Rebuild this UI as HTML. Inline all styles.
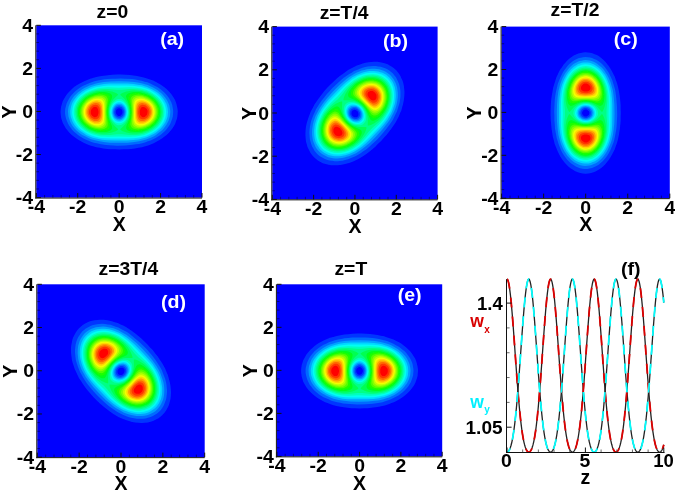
<!DOCTYPE html>
<html><head><meta charset="utf-8"><title>Figure</title><style>
html,body{margin:0;padding:0;background:#fff;}
body{width:675px;height:494px;overflow:hidden;}
svg{display:block;}
text{font-family:"Liberation Sans",Arial,Helvetica,sans-serif;font-weight:bold;fill:#000;}
.tx{font-size:18.5px;text-anchor:middle;}
.ty{font-size:18.5px;text-anchor:end;}
.lb{font-size:19.5px;text-anchor:middle;}
.tt{font-size:18.5px;text-anchor:middle;}
.pl{font-size:18.5px;text-anchor:middle;fill:#fff;}
.wl{font-size:17.5px;}
.sub{font-size:10px;}
</style></head>
<body><svg width="675" height="494" viewBox="0 0 675 494">
<rect width="675" height="494" fill="#fff"/>
<defs><filter id="bl" x="-10%" y="-10%" width="120%" height="120%"><feGaussianBlur stdDeviation="0.45"/></filter><g id="blob"><path fill="#0036ff" d="M31 173 10 174 -12 174 -34 173 -54 171 -73 169 -92 166 -110 163 -127 158 -143 154 -160 147 -176 140 -190 133 -203 126 -216 117 -228 107 -239 97 -249 86 -258 75 -265 63 -272 51 -276 39 -280 26 -282 13 -283 0 -282 -13 -280 -26 -276 -39 -272 -51 -265 -63 -258 -75 -249 -86 -239 -97 -229 -106 -219 -114 -208 -122 -195 -130 -182 -137 -169 -144 -155 -149 -140 -155 -126 -159 -110 -163 -93 -166 -76 -169 -57 -171 -39 -173 -20 -173 0 -174 20 -173 39 -173 57 -171 76 -169 93 -166 110 -163 126 -159 140 -155 155 -149 169 -144 182 -137 195 -130 208 -122 219 -114 229 -106 239 -97 248 -87 256 -77 264 -66 270 -55 274 -44 278 -33 281 -22 282 -10 283 2 282 13 280 24 277 36 273 48 268 59 261 70 254 80 246 90 236 100 226 109 215 117 203 126 191 133 178 139 164 146 149 151 134 156 119 161 102 164 86 167 69 170 51 172ZM5 17 10 14 14 9 16 3 16 -1 16 -4 13 -10 11 -13 9 -15 6 -17 3 -18 0 -18 -3 -18 -6 -17 -9 -15 -11 -13 -13 -10 -15 -7 -16 -3 -16 1 -16 4 -15 7 -13 11 -11 13 -8 15 -5 17 -2 18 1 18Z"/>
<path fill="#006bff" d="M28 155 7 156 -14 155 -35 155 -54 153 -72 152 -88 149 -103 146 -119 143 -133 138 -148 133 -162 127 -174 122 -186 115 -198 107 -209 99 -219 90 -228 80 -237 70 -243 60 -249 49 -254 38 -257 27 -260 16 -261 4 -261 -8 -259 -19 -256 -31 -252 -42 -247 -53 -241 -64 -233 -74 -225 -84 -216 -93 -207 -100 -197 -108 -186 -115 -174 -122 -162 -127 -150 -132 -136 -138 -122 -142 -108 -145 -93 -148 -79 -151 -63 -153 -46 -154 -10 -156 29 -155 64 -152 80 -150 96 -148 111 -145 124 -141 139 -136 152 -132 164 -126 176 -120 188 -114 199 -106 209 -99 219 -90 228 -81 235 -72 242 -62 248 -52 252 -42 256 -31 259 -21 260 -10 261 1 260 12 258 23 256 33 252 44 247 54 241 64 234 73 227 82 218 91 208 99 198 107 188 114 176 120 164 126 150 132 136 138 123 141 108 145 94 148 79 151 63 153ZM6 25 10 23 14 21 17 17 20 13 22 9 23 4 23 -1 22 -6 21 -11 19 -15 16 -19 13 -21 9 -24 5 -25 1 -26 -4 -25 -9 -24 -13 -21 -17 -18 -19 -14 -22 -9 -23 -4 -23 1 -22 6 -21 11 -19 15 -16 19 -12 22 -8 24 -3 26 2 26Z"/>
<path fill="#00a1ff" d="M41 142 -1 143 -42 142 -74 139 -88 137 -102 135 -116 131 -130 127 -143 123 -155 118 -166 113 -178 106 -188 99 -198 92 -208 83 -217 74 -224 65 -231 55 -236 45 -240 35 -244 25 -246 14 -247 3 -246 -8 -245 -19 -242 -29 -238 -40 -234 -50 -228 -60 -221 -69 -214 -77 -207 -84 -199 -91 -190 -98 -180 -105 -170 -110 -160 -115 -149 -120 -138 -125 -126 -129 -101 -135 -74 -139 -44 -142 -3 -143 40 -142 73 -139 88 -137 102 -135 116 -131 130 -127 143 -123 155 -118 166 -113 178 -106 188 -99 198 -92 207 -84 215 -76 222 -67 229 -58 234 -49 239 -39 242 -29 245 -19 246 -9 247 1 246 11 244 21 242 31 238 41 233 51 228 60 221 69 214 77 205 86 196 93 186 101 176 107 164 114 153 119 141 124 129 128 116 131 102 135 88 137 73 139ZM6 32 11 30 16 27 20 23 24 18 27 12 28 6 29 0 28 -6 27 -12 24 -18 21 -22 17 -26 12 -30 7 -32 2 -33 -4 -32 -10 -31 -15 -28 -19 -24 -23 -19 -26 -13 -28 -7 -29 -1 -28 6 -27 12 -24 18 -20 23 -16 27 -11 30 -6 32 0 33Z"/>
<path fill="#00d7ff" d="M39 132 -8 132 -46 132 -74 130 -98 126 -111 123 -124 120 -136 116 -147 111 -158 106 -168 101 -178 95 -187 88 -196 81 -204 73 -212 64 -219 55 -225 45 -229 36 -232 26 -234 16 -236 6 -236 -4 -235 -14 -233 -24 -229 -34 -226 -43 -220 -53 -214 -62 -208 -69 -201 -76 -194 -83 -186 -89 -169 -100 -159 -106 -149 -111 -128 -119 -106 -124 -83 -129 -57 -131 -19 -132 38 -132 68 -130 94 -127 107 -124 121 -121 133 -117 145 -112 156 -107 167 -102 177 -96 187 -88 196 -81 204 -73 211 -65 217 -57 223 -48 227 -39 231 -30 234 -20 235 -10 236 -1 235 9 234 19 231 29 228 38 223 47 218 56 211 65 204 73 197 80 188 88 179 94 169 100 158 106 147 111 135 116 123 120 110 124 97 126 70 130ZM2 39 9 38 15 35 20 31 25 26 29 20 31 13 33 6 33 -2 32 -10 30 -17 27 -23 22 -29 17 -34 11 -37 5 -39 -1 -39 -8 -38 -14 -35 -20 -31 -25 -26 -29 -20 -31 -13 -33 -6 -33 2 -32 10 -30 17 -26 24 -22 29 -17 34 -11 37 -4 39Z"/>
<path fill="#00fff2" d="M35 123 -54 123 -76 121 -97 118 -109 116 -121 113 -142 105 -152 101 -162 96 -171 90 -180 84 -189 77 -197 69 -204 61 -210 53 -215 44 -220 35 -223 26 -225 16 -226 7 -227 -3 -226 -13 -224 -22 -221 -31 -217 -40 -212 -49 -206 -58 -195 -71 -188 -77 -181 -83 -165 -94 -148 -103 -130 -110 -110 -116 -89 -120 -66 -122 -39 -123 46 -123 70 -122 91 -119 104 -117 116 -114 128 -111 139 -107 150 -102 161 -96 171 -90 180 -84 188 -77 196 -70 203 -62 209 -54 215 -45 219 -36 223 -27 225 -18 226 -9 227 1 226 10 225 19 222 28 219 37 214 46 208 55 202 63 195 71 187 78 179 85 170 91 160 97 150 102 139 107 128 111 116 114 104 117 91 119 65 122ZM6 45 13 43 19 39 25 34 30 27 34 20 36 12 38 4 37 -5 36 -13 33 -22 29 -29 24 -35 18 -40 11 -44 4 -45 -3 -45 -10 -44 -17 -41 -24 -35 -29 -29 -33 -21 -36 -13 -38 -4 -37 5 -36 14 -33 22 -28 30 -23 36 -16 41 -9 44 -2 46Z"/>
<path fill="#00ffbc" d="M72 114 49 115 -2 113 -55 115 -69 114 -82 113 -102 110 -122 105 -141 98 -158 90 -168 84 -177 77 -185 71 -193 63 -199 55 -205 47 -209 39 -213 30 -216 21 -218 12 -219 3 -219 -7 -217 -16 -215 -25 -212 -34 -207 -43 -199 -56 -188 -68 -175 -79 -160 -89 -144 -97 -126 -104 -107 -109 -88 -113 -72 -114 -55 -115 -3 -113 52 -115 66 -114 79 -114 101 -110 121 -106 140 -99 158 -90 167 -85 175 -79 183 -73 190 -66 196 -59 202 -51 207 -43 211 -35 214 -27 217 -18 218 -9 219 -1 218 8 217 16 215 24 212 33 208 41 204 49 198 57 192 64 185 71 177 77 169 83 160 89 151 94 141 98 130 103 119 106 107 109 96 111 84 113ZM6 52 14 49 21 45 28 39 33 32 37 23 40 14 42 5 42 -5 40 -15 37 -24 32 -33 27 -40 20 -46 13 -50 5 -52 -3 -52 -11 -51 -19 -47 -26 -41 -32 -33 -37 -24 -40 -15 -42 -5 -42 5 -40 15 -36 25 -31 34 -25 42 -18 47 -10 51 -2 53Z"/>
<path fill="#00ff86" d="M69 107 49 107 14 103 1 103 -13 103 -41 106 -55 107 -70 107 -85 106 -103 104 -121 99 -137 94 -153 86 -162 81 -171 74 -179 68 -186 61 -193 53 -198 45 -203 37 -206 29 -209 21 -211 12 -212 3 -211 -6 -210 -15 -208 -23 -205 -32 -201 -40 -193 -52 -183 -64 -171 -74 -158 -83 -143 -91 -127 -97 -110 -102 -92 -105 -75 -107 -58 -107 -42 -106 -12 -103 1 -103 14 -103 54 -107 68 -107 82 -106 101 -104 119 -100 137 -94 153 -86 162 -81 170 -75 178 -68 185 -62 191 -55 196 -48 201 -41 205 -33 208 -25 210 -17 211 -9 212 0 211 9 210 17 208 25 205 33 201 41 196 48 191 55 185 62 178 68 170 75 162 81 153 86 144 90 134 95 124 98 113 101 102 104 91 105ZM4 61 12 59 20 54 27 48 34 39 39 30 43 19 45 8 46 -3 44 -14 41 -25 37 -34 31 -44 24 -51 16 -57 12 -59 7 -60 -1 -61 -6 -61 -10 -60 -18 -56 -26 -49 -33 -41 -39 -31 -43 -20 -45 -9 -46 3 -44 15 -41 26 -36 36 -29 46 -21 53 -13 58 -5 61 -1 61Z"/>
<path fill="#00ff51" d="M-74 100 -87 99 -99 98 -112 96 -124 92 -136 88 -147 83 -157 77 -167 70 -175 63 -183 55 -189 47 -195 38 -199 29 -203 19 -204 10 -205 0 -204 -10 -203 -19 -199 -29 -195 -38 -189 -47 -183 -55 -175 -63 -166 -71 -156 -78 -146 -83 -135 -88 -123 -92 -111 -96 -98 -98 -86 -100 -73 -100 -63 -100 -53 -99 -35 -95 -25 -92 -17 -89 -9 -85 -6 -82 -5 -80 -7 -78 -19 -67 -28 -58 -34 -50 -39 -41 -44 -31 -47 -21 -49 -11 -49 0 -49 11 -47 22 -43 32 -39 42 -33 51 -27 59 -19 67 -7 78 -5 80 -5 81 -6 82 -8 84 -15 88 -25 92 -34 95 -44 97 -54 99 -64 100ZM74 100 64 100 54 99 44 97 34 95 25 92 15 88 8 84 6 82 5 81 5 80 7 78 19 67 27 59 33 51 39 42 43 32 47 22 49 11 49 0 49 -11 47 -21 44 -31 39 -41 34 -50 28 -58 19 -67 7 -78 5 -80 6 -82 9 -85 17 -89 25 -92 35 -95 53 -99 63 -100 73 -100 86 -100 98 -98 111 -96 123 -92 135 -88 146 -83 156 -78 166 -71 175 -63 183 -55 189 -47 195 -38 199 -29 203 -19 204 -10 205 0 204 10 203 19 199 29 195 38 189 47 183 55 175 63 167 70 157 77 147 83 136 88 124 92 112 96 99 98 87 99Z"/>
<path fill="#00ff1b" d="M-72 93 -82 93 -93 93 -104 91 -115 89 -125 86 -135 82 -145 78 -154 72 -162 67 -170 60 -177 53 -183 46 -188 38 -192 30 -196 22 -198 13 -199 5 -199 -4 -198 -13 -196 -21 -193 -29 -189 -37 -184 -45 -178 -52 -171 -59 -163 -66 -155 -72 -146 -77 -136 -82 -126 -86 -116 -89 -105 -91 -92 -93 -80 -93 -69 -93 -58 -91 -48 -88 -41 -85 -36 -80 -35 -78 -34 -75 -34 -70 -35 -65 -45 -41 -50 -27 -52 -13 -53 0 -52 13 -50 27 -45 41 -35 65 -34 70 -34 75 -35 79 -38 82 -41 85 -46 87 -51 89 -58 91ZM90 93 79 93 69 93 59 91 51 89 43 86 38 82 35 78 33 74 34 70 35 65 45 41 50 27 52 13 53 0 52 -13 50 -27 45 -41 35 -65 34 -70 34 -75 35 -78 37 -81 40 -84 43 -86 54 -90 66 -92 77 -93 88 -93 99 -92 111 -90 123 -87 134 -83 144 -78 154 -72 163 -66 171 -59 178 -52 184 -44 189 -36 194 -27 197 -18 198 -9 199 0 198 9 197 18 194 27 189 36 184 44 178 52 171 59 163 66 155 72 145 78 135 82 124 86 113 89 102 92Z"/>
<path fill="#1bff00" d="M-74 86 -83 87 -92 87 -102 86 -112 84 -122 81 -131 78 -140 74 -149 69 -157 64 -165 58 -171 52 -177 45 -182 38 -186 30 -189 23 -191 15 -193 7 -193 -1 -193 -9 -191 -17 -188 -25 -185 -32 -181 -39 -176 -46 -170 -53 -163 -59 -156 -65 -148 -70 -140 -74 -131 -78 -122 -81 -112 -84 -100 -86 -89 -87 -78 -87 -68 -85 -60 -83 -53 -79 -49 -75 -47 -72 -46 -69 -46 -64 -46 -59 -55 -23 -56 -11 -57 0 -56 10 -55 20 -53 32 -46 57 -46 63 -46 68 -47 72 -49 75 -52 78 -55 80 -63 84ZM101 86 91 87 81 87 71 86 63 84 56 81 51 77 48 73 46 68 46 63 46 57 53 32 55 20 56 10 57 0 56 -10 55 -20 53 -32 46 -57 46 -63 46 -68 47 -71 48 -74 51 -77 54 -79 62 -83 72 -86 81 -87 91 -87 101 -86 111 -84 121 -82 131 -78 141 -74 150 -69 158 -63 166 -57 173 -50 178 -43 184 -35 188 -27 190 -19 192 -11 193 -3 193 6 192 14 189 22 186 30 182 38 177 45 171 52 165 58 157 64 149 69 140 74 131 78 121 82 111 84Z"/>
<path fill="#51ff00" d="M-81 80 -89 81 -98 81 -107 79 -116 78 -125 75 -134 71 -142 68 -150 63 -157 58 -164 52 -169 46 -175 39 -179 32 -182 25 -185 18 -187 10 -187 3 -187 -5 -186 -13 -184 -20 -182 -27 -178 -34 -173 -41 -168 -47 -162 -53 -156 -58 -149 -63 -141 -68 -133 -72 -124 -75 -116 -78 -107 -79 -97 -81 -87 -81 -78 -80 -70 -77 -64 -74 -59 -70 -56 -65 -55 -60 -55 -50 -59 -19 -61 0 -59 19 -55 50 -54 56 -55 61 -56 65 -58 68 -60 71 -63 74 -67 76 -71 78ZM103 80 93 81 84 80 76 79 69 77 64 74 59 70 56 65 55 60 55 50 59 19 61 0 59 -19 55 -50 54 -56 55 -61 56 -65 58 -68 60 -71 63 -74 67 -76 71 -78 82 -80 90 -81 99 -80 108 -79 117 -77 126 -75 135 -71 143 -67 151 -62 158 -57 165 -51 170 -45 175 -38 180 -31 183 -23 185 -16 187 -8 187 -1 187 7 186 15 184 22 181 29 177 36 172 43 167 49 160 55 153 61 146 65 138 70 130 73 121 76 112 79Z"/>
<path fill="#86ff00" d="M-87 74 -94 75 -102 74 -110 73 -118 72 -126 69 -134 66 -142 62 -149 57 -156 52 -161 47 -167 41 -171 35 -175 29 -178 22 -180 15 -181 8 -182 1 -182 -6 -180 -13 -178 -20 -176 -27 -172 -33 -168 -39 -163 -45 -157 -51 -151 -56 -144 -61 -137 -64 -130 -68 -122 -70 -114 -73 -106 -74 -97 -75 -88 -74 -80 -73 -74 -70 -69 -67 -66 -63 -63 -58 -62 -52 -62 -42 -64 -15 -64 -1 -64 14 -61 43 -62 49 -62 54 -63 58 -65 62 -67 65 -70 68 -77 72 -82 73ZM106 74 97 75 88 74 80 73 74 70 69 67 66 63 63 58 62 52 62 42 64 15 64 1 64 -14 61 -43 62 -50 62 -55 64 -59 65 -62 67 -65 71 -68 74 -70 78 -72 88 -74 95 -75 103 -74 111 -73 120 -71 128 -68 136 -65 143 -61 150 -57 156 -52 162 -46 167 -40 172 -34 175 -28 178 -21 180 -14 181 -7 182 0 181 7 180 14 178 20 176 27 172 33 168 39 163 45 157 51 151 56 144 61 137 64 130 68 122 70 114 73Z"/>
<path fill="#bcff00" d="M-92 68 -98 69 -105 68 -112 67 -120 66 -128 63 -135 60 -142 56 -148 52 -154 47 -159 42 -163 37 -167 31 -171 25 -173 19 -175 13 -176 6 -176 -1 -176 -7 -175 -13 -173 -19 -171 -25 -167 -31 -163 -37 -159 -42 -154 -47 -148 -52 -142 -56 -135 -60 -128 -63 -121 -65 -114 -67 -107 -68 -99 -69 -91 -68 -84 -66 -79 -64 -74 -60 -71 -56 -69 -51 -68 -44 -67 -33 -68 2 -67 36 -68 43 -68 48 -69 52 -71 56 -73 59 -76 62 -79 64 -83 66ZM108 68 100 69 92 68 85 66 79 64 74 60 71 56 69 50 68 43 67 33 68 -1 67 -36 68 -43 69 -49 70 -53 72 -57 74 -60 77 -62 84 -66 89 -68 94 -68 101 -69 108 -68 115 -67 122 -65 129 -62 136 -59 143 -55 149 -51 155 -46 160 -41 164 -36 168 -30 171 -24 173 -18 175 -12 176 -6 176 1 176 7 175 13 173 19 171 25 167 31 163 37 159 42 154 47 148 52 136 59 129 62 122 65 115 67Z"/>
<path fill="#f2ff00" d="M-97 62 -103 62 -109 62 -115 61 -122 59 -129 57 -135 54 -146 47 -151 43 -156 38 -160 33 -163 28 -166 23 -168 17 -170 11 -171 5 -171 -1 -170 -7 -168 -18 -165 -24 -162 -29 -159 -34 -155 -39 -150 -44 -145 -48 -133 -55 -121 -60 -114 -61 -108 -62 -100 -62 -93 -61 -87 -59 -82 -56 -78 -52 -75 -47 -74 -41 -73 -34 -72 -23 -72 26 -73 36 -74 43 -77 50 -79 53 -82 56 -85 58 -89 60ZM109 62 101 62 94 61 87 59 82 56 78 52 75 47 74 41 72 33 72 22 72 -26 73 -36 74 -43 77 -50 79 -53 82 -56 85 -58 89 -60 94 -61 99 -62 105 -62 111 -62 117 -61 124 -59 136 -53 147 -46 156 -37 164 -27 166 -22 168 -16 170 -10 171 -4 171 2 170 8 167 19 165 24 162 30 155 39 145 48 134 54 122 59 115 61Z"/>
<path fill="#ffd700" d="M-105 56 -110 56 -116 55 -127 52 -138 46 -147 39 -155 30 -160 21 -164 11 -165 1 -165 -5 -164 -10 -161 -20 -156 -29 -148 -38 -139 -45 -129 -51 -118 -55 -107 -56 -100 -56 -93 -54 -87 -50 -83 -46 -80 -40 -78 -33 -77 -24 -77 -12 -77 10 -77 24 -78 34 -81 41 -84 47 -87 50 -90 52 -97 55ZM107 56 99 55 92 53 87 50 83 45 80 39 78 31 77 21 76 7 77 -14 77 -26 79 -35 81 -42 85 -48 90 -52 97 -55 106 -56 117 -55 128 -51 139 -45 148 -38 155 -30 158 -25 161 -20 164 -10 165 0 164 10 161 20 156 29 148 38 139 45 129 51 118 55Z"/>
<path fill="#ffa100" d="M-105 49 -114 49 -124 47 -134 42 -142 36 -149 29 -154 21 -158 12 -159 3 -159 -6 -157 -15 -152 -24 -146 -32 -139 -39 -130 -44 -120 -48 -111 -49 -104 -49 -98 -47 -93 -45 -89 -41 -86 -36 -84 -31 -82 -23 -81 -14 -81 1 -82 16 -83 26 -85 34 -88 40 -93 45 -98 47ZM114 49 107 49 100 48 95 46 90 42 87 38 84 32 83 25 82 16 81 1 82 -15 83 -26 85 -34 88 -40 93 -45 99 -48 106 -49 115 -49 125 -46 134 -42 142 -36 149 -29 154 -21 157 -13 159 -4 159 5 157 14 154 22 148 30 141 37 132 43 123 47Z"/>
<path fill="#ff6b00" d="M-109 42 -116 42 -124 40 -132 36 -139 31 -145 24 -149 17 -152 10 -153 2 -153 -6 -150 -14 -147 -21 -142 -28 -136 -33 -128 -38 -120 -41 -113 -42 -107 -42 -102 -40 -98 -38 -94 -34 -91 -29 -89 -23 -87 -15 -86 -6 -86 5 -87 15 -89 23 -91 30 -94 34 -98 38 -103 41ZM114 42 108 42 102 40 98 38 94 34 91 29 89 23 87 15 86 6 86 -5 87 -15 89 -23 91 -30 94 -35 99 -39 104 -41 110 -42 117 -42 125 -39 133 -35 140 -30 145 -24 149 -17 152 -10 153 -2 153 6 151 13 148 20 143 27 136 33 129 38 122 40Z"/>
<path fill="#ff3600" d="M-108 33 -114 34 -120 33 -126 31 -132 27 -137 23 -141 17 -144 11 -146 4 -146 -3 -145 -9 -142 -15 -139 -20 -135 -25 -129 -29 -123 -32 -117 -34 -112 -34 -108 -33 -104 -31 -101 -29 -98 -26 -95 -21 -94 -16 -93 -10 -92 -2 -92 6 -93 13 -95 20 -97 24 -100 28 -104 31ZM120 33 115 34 110 34 106 32 102 30 99 27 96 22 94 17 93 10 92 2 92 -7 94 -15 95 -21 98 -26 102 -30 106 -32 111 -34 117 -34 123 -32 128 -30 134 -26 138 -22 142 -16 144 -10 146 -4 146 2 145 8 143 14 140 19 136 24 131 28 126 31Z"/>
<path fill="#ff0000" d="M-112 23 -116 24 -120 23 -124 22 -128 19 -131 16 -134 12 -136 8 -137 3 -137 -2 -137 -6 -135 -10 -133 -14 -130 -17 -126 -21 -122 -23 -118 -24 -115 -24 -112 -23 -109 -22 -106 -20 -104 -17 -102 -13 -100 -5 -100 5 -102 13 -104 17 -106 20 -109 22ZM120 23 116 24 113 23 109 22 106 20 104 17 102 14 101 10 100 5 100 -1 100 -6 101 -11 103 -15 105 -18 108 -21 111 -23 114 -24 118 -24 122 -23 126 -21 129 -18 132 -15 135 -11 136 -7 137 -3 137 1 137 5 136 9 134 13 131 16 128 19 124 22Z"/></g>
<clipPath id="cpa"><rect x="36.3" y="25.3" width="165.7" height="172.3"/></clipPath>
<clipPath id="cpb"><rect x="272.3" y="26.6" width="165.3" height="172.8"/></clipPath>
<clipPath id="cpc"><rect x="501.6" y="26.6" width="168.2" height="171.6"/></clipPath>
<clipPath id="cpd"><rect x="37.3" y="284.3" width="167.4" height="172.9"/></clipPath>
<clipPath id="cpe"><rect x="276.9" y="284.3" width="165.3" height="172.1"/></clipPath>
</defs>
<rect x="36.3" y="25.3" width="165.7" height="172.3" fill="#0000ff"/>
<g clip-path="url(#cpa)"><g filter="url(#bl)"><use href="#blob" transform="translate(119.15 112.05) scale(0.20712 -0.21537) rotate(0)"/></g></g>
<path d="M35.8 25.3V198.55M35.3 198.05H202M36.3 197.6v-4.6M36.3 197.6h4.6M77.72 197.6v-4.6M36.3 154.53h4.6M119.15 197.6v-4.6M36.3 111.45h4.6M160.57 197.6v-4.6M36.3 68.38h4.6M202 197.6v-4.6M36.3 25.3h4.6" stroke="#111" stroke-width="1" fill="none"/>
<path d="M44.58 197.6v-2.6M36.3 188.98h2.6M52.87 197.6v-2.6M36.3 180.37h2.6M61.16 197.6v-2.6M36.3 171.75h2.6M69.44 197.6v-2.6M36.3 163.14h2.6M86.01 197.6v-2.6M36.3 145.91h2.6M94.3 197.6v-2.6M36.3 137.29h2.6M102.58 197.6v-2.6M36.3 128.68h2.6M110.86 197.6v-2.6M36.3 120.06h2.6M127.44 197.6v-2.6M36.3 102.83h2.6M135.72 197.6v-2.6M36.3 94.22h2.6M144 197.6v-2.6M36.3 85.61h2.6M152.29 197.6v-2.6M36.3 76.99h2.6M168.86 197.6v-2.6M36.3 59.76h2.6M177.14 197.6v-2.6M36.3 51.14h2.6M185.43 197.6v-2.6M36.3 42.53h2.6M193.71 197.6v-2.6M36.3 33.91h2.6" stroke="#000050" stroke-width="0.8" fill="none" opacity="0.8"/>
<text transform="translate(36.3 213.4) scale(1.05 1)" class="tx">-4</text>
<text transform="translate(33.1 204.1) scale(1.05 1)" class="ty">-4</text>
<text transform="translate(77.72 213.4) scale(1.05 1)" class="tx">-2</text>
<text transform="translate(33.1 161.03) scale(1.05 1)" class="ty">-2</text>
<text transform="translate(119.15 213.4) scale(1.05 1)" class="tx">0</text>
<text transform="translate(33.1 117.95) scale(1.05 1)" class="ty">0</text>
<text transform="translate(160.57 213.4) scale(1.05 1)" class="tx">2</text>
<text transform="translate(33.1 74.88) scale(1.05 1)" class="ty">2</text>
<text transform="translate(202 213.4) scale(1.05 1)" class="tx">4</text>
<text transform="translate(33.1 31.8) scale(1.05 1)" class="ty">4</text>
<text transform="translate(119.15 230.8)" class="lb">X</text>
<text transform="translate(16.1 111.95) rotate(-90)" class="lb">Y</text>
<text transform="translate(112.35 17.5) scale(1.045 1)" class="tt">z=0</text>
<text transform="translate(172.15 45.4) scale(1.06 1)" class="pl">(a)</text>
<rect x="272.3" y="26.6" width="165.3" height="172.8" fill="#0000ff"/>
<g clip-path="url(#cpb)"><g filter="url(#bl)"><use href="#blob" transform="translate(354.95 113.6) scale(0.20663 -0.21600) rotate(45) scale(1 1.03)"/></g></g>
<path d="M271.8 26.6V200.35M271.3 199.85H437.6M272.3 199.4v-4.6M272.3 199.4h4.6M313.62 199.4v-4.6M272.3 156.2h4.6M354.95 199.4v-4.6M272.3 113h4.6M396.28 199.4v-4.6M272.3 69.8h4.6M437.6 199.4v-4.6M272.3 26.6h4.6" stroke="#111" stroke-width="1" fill="none"/>
<path d="M280.56 199.4v-2.6M272.3 190.76h2.6M288.83 199.4v-2.6M272.3 182.12h2.6M297.1 199.4v-2.6M272.3 173.48h2.6M305.36 199.4v-2.6M272.3 164.84h2.6M321.89 199.4v-2.6M272.3 147.56h2.6M330.16 199.4v-2.6M272.3 138.92h2.6M338.42 199.4v-2.6M272.3 130.28h2.6M346.69 199.4v-2.6M272.3 121.64h2.6M363.22 199.4v-2.6M272.3 104.36h2.6M371.48 199.4v-2.6M272.3 95.72h2.6M379.75 199.4v-2.6M272.3 87.08h2.6M388.01 199.4v-2.6M272.3 78.44h2.6M404.54 199.4v-2.6M272.3 61.16h2.6M412.81 199.4v-2.6M272.3 52.52h2.6M421.07 199.4v-2.6M272.3 43.88h2.6M429.34 199.4v-2.6M272.3 35.24h2.6" stroke="#000050" stroke-width="0.8" fill="none" opacity="0.8"/>
<text transform="translate(272.3 215.2) scale(1.05 1)" class="tx">-4</text>
<text transform="translate(269.1 205.9) scale(1.05 1)" class="ty">-4</text>
<text transform="translate(313.62 215.2) scale(1.05 1)" class="tx">-2</text>
<text transform="translate(269.1 162.7) scale(1.05 1)" class="ty">-2</text>
<text transform="translate(354.95 215.2) scale(1.05 1)" class="tx">0</text>
<text transform="translate(269.1 119.5) scale(1.05 1)" class="ty">0</text>
<text transform="translate(396.28 215.2) scale(1.05 1)" class="tx">2</text>
<text transform="translate(269.1 76.3) scale(1.05 1)" class="ty">2</text>
<text transform="translate(437.6 215.2) scale(1.05 1)" class="tx">4</text>
<text transform="translate(269.1 33.1) scale(1.05 1)" class="ty">4</text>
<text transform="translate(354.95 232.6)" class="lb">X</text>
<text transform="translate(256.1 113.5) rotate(-90)" class="lb">Y</text>
<text transform="translate(344.1 18.7) scale(1.045 1)" class="tt">z=T/4</text>
<text transform="translate(395.6 47.3) scale(1.06 1)" class="pl">(b)</text>
<rect x="501.6" y="26.6" width="168.2" height="171.6" fill="#0000ff"/>
<g clip-path="url(#cpc)"><g filter="url(#bl)"><use href="#blob" transform="translate(585.7 113) scale(0.21025 -0.21450) rotate(90) scale(1 0.96)"/></g></g>
<path d="M501.1 26.6V199.15M500.6 198.65H669.8M501.6 198.2v-4.6M501.6 198.2h4.6M543.65 198.2v-4.6M501.6 155.3h4.6M585.7 198.2v-4.6M501.6 112.4h4.6M627.75 198.2v-4.6M501.6 69.5h4.6M669.8 198.2v-4.6M501.6 26.6h4.6" stroke="#111" stroke-width="1" fill="none"/>
<path d="M510.01 198.2v-2.6M501.6 189.62h2.6M518.42 198.2v-2.6M501.6 181.04h2.6M526.83 198.2v-2.6M501.6 172.46h2.6M535.24 198.2v-2.6M501.6 163.88h2.6M552.06 198.2v-2.6M501.6 146.72h2.6M560.47 198.2v-2.6M501.6 138.14h2.6M568.88 198.2v-2.6M501.6 129.56h2.6M577.29 198.2v-2.6M501.6 120.98h2.6M594.11 198.2v-2.6M501.6 103.82h2.6M602.52 198.2v-2.6M501.6 95.24h2.6M610.93 198.2v-2.6M501.6 86.66h2.6M619.34 198.2v-2.6M501.6 78.08h2.6M636.16 198.2v-2.6M501.6 60.92h2.6M644.57 198.2v-2.6M501.6 52.34h2.6M652.98 198.2v-2.6M501.6 43.76h2.6M661.39 198.2v-2.6M501.6 35.18h2.6" stroke="#000050" stroke-width="0.8" fill="none" opacity="0.8"/>
<text transform="translate(501.6 214) scale(1.05 1)" class="tx">-4</text>
<text transform="translate(498.4 204.7) scale(1.05 1)" class="ty">-4</text>
<text transform="translate(543.65 214) scale(1.05 1)" class="tx">-2</text>
<text transform="translate(498.4 161.8) scale(1.05 1)" class="ty">-2</text>
<text transform="translate(585.7 214) scale(1.05 1)" class="tx">0</text>
<text transform="translate(498.4 118.9) scale(1.05 1)" class="ty">0</text>
<text transform="translate(627.75 214) scale(1.05 1)" class="tx">2</text>
<text transform="translate(498.4 76) scale(1.05 1)" class="ty">2</text>
<text transform="translate(669.8 214) scale(1.05 1)" class="tx">4</text>
<text transform="translate(498.4 33.1) scale(1.05 1)" class="ty">4</text>
<text transform="translate(585.7 231.4)" class="lb">X</text>
<text transform="translate(481.4 112.9) rotate(-90)" class="lb">Y</text>
<text transform="translate(575 16.2) scale(1.045 1)" class="tt">z=T/2</text>
<text transform="translate(625.7 44.7) scale(1.06 1)" class="pl">(c)</text>
<rect x="37.3" y="284.3" width="167.4" height="172.9" fill="#0000ff"/>
<g clip-path="url(#cpd)"><g filter="url(#bl)"><use href="#blob" transform="translate(121 371.35) scale(0.20925 -0.21612) rotate(135) scale(1 1.02)"/></g></g>
<path d="M36.8 284.3V458.15M36.3 457.65H204.7M37.3 457.2v-4.6M37.3 457.2h4.6M79.15 457.2v-4.6M37.3 413.98h4.6M121 457.2v-4.6M37.3 370.75h4.6M162.85 457.2v-4.6M37.3 327.52h4.6M204.7 457.2v-4.6M37.3 284.3h4.6" stroke="#111" stroke-width="1" fill="none"/>
<path d="M45.67 457.2v-2.6M37.3 448.56h2.6M54.04 457.2v-2.6M37.3 439.91h2.6M62.41 457.2v-2.6M37.3 431.26h2.6M70.78 457.2v-2.6M37.3 422.62h2.6M87.52 457.2v-2.6M37.3 405.33h2.6M95.89 457.2v-2.6M37.3 396.69h2.6M104.26 457.2v-2.6M37.3 388.04h2.6M112.63 457.2v-2.6M37.3 379.39h2.6M129.37 457.2v-2.6M37.3 362.11h2.6M137.74 457.2v-2.6M37.3 353.46h2.6M146.11 457.2v-2.6M37.3 344.81h2.6M154.48 457.2v-2.6M37.3 336.17h2.6M171.22 457.2v-2.6M37.3 318.88h2.6M179.59 457.2v-2.6M37.3 310.24h2.6M187.96 457.2v-2.6M37.3 301.59h2.6M196.33 457.2v-2.6M37.3 292.94h2.6" stroke="#000050" stroke-width="0.8" fill="none" opacity="0.8"/>
<text transform="translate(37.3 473) scale(1.05 1)" class="tx">-4</text>
<text transform="translate(34.1 463.7) scale(1.05 1)" class="ty">-4</text>
<text transform="translate(79.15 473) scale(1.05 1)" class="tx">-2</text>
<text transform="translate(34.1 420.48) scale(1.05 1)" class="ty">-2</text>
<text transform="translate(121 473) scale(1.05 1)" class="tx">0</text>
<text transform="translate(34.1 377.25) scale(1.05 1)" class="ty">0</text>
<text transform="translate(162.85 473) scale(1.05 1)" class="tx">2</text>
<text transform="translate(34.1 334.02) scale(1.05 1)" class="ty">2</text>
<text transform="translate(204.7 473) scale(1.05 1)" class="tx">4</text>
<text transform="translate(34.1 290.8) scale(1.05 1)" class="ty">4</text>
<text transform="translate(121 490.4)" class="lb">X</text>
<text transform="translate(17.1 371.25) rotate(-90)" class="lb">Y</text>
<text transform="translate(128.35 275.1) scale(1.045 1)" class="tt">z=3T/4</text>
<text transform="translate(173.55 307.6) scale(1.06 1)" class="pl">(d)</text>
<rect x="276.9" y="284.3" width="165.3" height="172.1" fill="#0000ff"/>
<g clip-path="url(#cpe)"><g filter="url(#bl)"><use href="#blob" transform="translate(359.55 370.95) scale(0.20663 -0.21512) rotate(0)"/></g></g>
<path d="M276.4 284.3V457.35M275.9 456.85H442.2M276.9 456.4v-4.6M276.9 456.4h4.6M318.22 456.4v-4.6M276.9 413.38h4.6M359.55 456.4v-4.6M276.9 370.35h4.6M400.88 456.4v-4.6M276.9 327.32h4.6M442.2 456.4v-4.6M276.9 284.3h4.6" stroke="#111" stroke-width="1" fill="none"/>
<path d="M285.16 456.4v-2.6M276.9 447.79h2.6M293.43 456.4v-2.6M276.9 439.19h2.6M301.69 456.4v-2.6M276.9 430.58h2.6M309.96 456.4v-2.6M276.9 421.98h2.6M326.49 456.4v-2.6M276.9 404.77h2.6M334.75 456.4v-2.6M276.9 396.16h2.6M343.02 456.4v-2.6M276.9 387.56h2.6M351.28 456.4v-2.6M276.9 378.95h2.6M367.81 456.4v-2.6M276.9 361.75h2.6M376.08 456.4v-2.6M276.9 353.14h2.6M384.34 456.4v-2.6M276.9 344.53h2.6M392.61 456.4v-2.6M276.9 335.93h2.6M409.14 456.4v-2.6M276.9 318.72h2.6M417.4 456.4v-2.6M276.9 310.12h2.6M425.67 456.4v-2.6M276.9 301.51h2.6M433.94 456.4v-2.6M276.9 292.9h2.6" stroke="#000050" stroke-width="0.8" fill="none" opacity="0.8"/>
<text transform="translate(276.9 472.2) scale(1.05 1)" class="tx">-4</text>
<text transform="translate(273.7 462.9) scale(1.05 1)" class="ty">-4</text>
<text transform="translate(318.22 472.2) scale(1.05 1)" class="tx">-2</text>
<text transform="translate(273.7 419.88) scale(1.05 1)" class="ty">-2</text>
<text transform="translate(359.55 472.2) scale(1.05 1)" class="tx">0</text>
<text transform="translate(273.7 376.85) scale(1.05 1)" class="ty">0</text>
<text transform="translate(400.88 472.2) scale(1.05 1)" class="tx">2</text>
<text transform="translate(273.7 333.82) scale(1.05 1)" class="ty">2</text>
<text transform="translate(442.2 472.2) scale(1.05 1)" class="tx">4</text>
<text transform="translate(273.7 290.8) scale(1.05 1)" class="ty">4</text>
<text transform="translate(359.55 489.6)" class="lb">X</text>
<text transform="translate(256.7 370.85) rotate(-90)" class="lb">Y</text>
<text transform="translate(350.8 275.1) scale(1.045 1)" class="tt">z=T</text>
<text transform="translate(409.6 300.9) scale(1.06 1)" class="pl">(e)</text>
<path d="M507.00 279.20 507.31 279.34 507.63 279.75 507.94 280.45 508.25 281.41 508.57 282.64 508.88 284.14 509.20 285.89 509.51 287.89 509.82 290.13 510.14 292.61 510.45 295.30 510.76 298.21 511.08 301.31 511.39 304.61 511.70 308.07 512.02 311.69 512.33 315.46 512.64 319.36 512.96 323.37 513.27 327.48 513.59 331.68 513.90 335.95 514.21 340.28 514.53 344.64 514.84 349.03 515.15 353.43 515.47 357.83 515.78 362.21 516.09 366.57 516.41 370.88 516.72 375.13 517.04 379.32 517.35 383.43 517.66 387.46 517.98 391.39 518.29 395.22 518.60 398.94 518.92 402.54 519.23 406.02 519.54 409.37 519.86 412.59 520.17 415.68 520.48 418.63 520.80 421.44 521.11 424.11 521.43 426.64 521.74 429.03 522.05 431.28 522.37 433.40 522.68 435.38 522.99 437.23 523.31 438.95 523.62 440.55 523.93 442.03 524.25 443.38 524.56 444.63 524.88 445.76 525.19 446.79 525.50 447.71 525.82 448.54 526.13 449.27 526.44 449.91 526.76 450.47 527.07 450.94 527.38 451.32 527.70 451.63 528.01 451.86 528.32 452.01 528.64 452.09 528.95 452.09 529.27 452.02 529.58 451.87 529.89 451.64 530.21 451.34 530.52 450.95 530.83 450.48 531.15 449.93 531.46 449.29 531.77 448.56 532.09 447.74 532.40 446.82 532.72 445.79 533.03 444.66 533.34 443.42 533.66 442.07 533.97 440.60 534.28 439.00 534.60 437.29 534.91 435.44 535.22 433.46 535.54 431.35 535.85 429.10 536.16 426.71 536.48 424.19 536.79 421.52 537.11 418.72 537.42 415.77 537.73 412.69 538.05 409.47 538.36 406.13 538.67 402.65 538.99 399.05 539.30 395.34 539.61 391.51 539.93 387.58 540.24 383.56 540.56 379.45 540.87 375.26 541.18 371.01 541.50 366.70 541.81 362.35 542.12 357.97 542.44 353.57 542.75 349.17 543.06 344.78 543.38 340.41 543.69 336.08 544.00 331.81 544.32 327.61 544.63 323.49 544.95 319.48 545.26 315.58 545.57 311.80 545.89 308.18 546.20 304.71 546.51 301.41 546.83 298.30 547.14 295.39 547.45 292.69 547.77 290.21 548.08 287.96 548.40 285.95 548.71 284.19 549.02 282.68 549.34 281.44 549.65 280.47 549.96 279.77 550.28 279.35 550.59 279.20 550.90 279.33 551.22 279.74 551.53 280.42 551.84 281.38 552.16 282.60 552.47 284.09 552.79 285.83 553.10 287.83 553.41 290.06 553.73 292.53 554.04 295.22 554.35 298.12 554.67 301.22 554.98 304.50 555.29 307.96 555.61 311.58 555.92 315.34 556.24 319.24 556.55 323.25 556.86 327.36 557.18 331.55 557.49 335.82 557.80 340.14 558.12 344.51 558.43 348.90 558.74 353.30 559.06 357.70 559.37 362.08 559.68 366.43 560.00 370.75 560.31 375.00 560.63 379.19 560.94 383.31 561.25 387.34 561.57 391.27 561.88 395.11 562.19 398.83 562.51 402.44 562.82 405.92 563.13 409.27 563.45 412.50 563.76 415.59 564.08 418.54 564.39 421.35 564.70 424.03 565.02 426.56 565.33 428.96 565.64 431.22 565.96 433.34 566.27 435.32 566.58 437.18 566.90 438.90 567.21 440.50 567.52 441.98 567.84 443.34 568.15 444.59 568.47 445.73 568.78 446.76 569.09 447.69 569.41 448.52 569.72 449.25 570.03 449.90 570.35 450.45 570.66 450.92 570.97 451.31 571.29 451.62 571.60 451.86 571.92 452.01 572.23 452.09 572.54 452.09 572.86 452.02 573.17 451.87 573.48 451.65 573.80 451.35 574.11 450.96 574.42 450.50 574.74 449.95 575.05 449.31 575.36 448.59 575.68 447.77 575.99 446.85 576.31 445.83 576.62 444.70 576.93 443.46 577.25 442.11 577.56 440.64 577.87 439.06 578.19 437.34 578.50 435.50 578.81 433.52 579.13 431.42 579.44 429.17 579.76 426.79 580.07 424.27 580.38 421.60 580.70 418.80 581.01 415.86 581.32 412.79 581.64 409.58 581.95 406.23 582.26 402.76 582.58 399.17 582.89 395.45 583.20 391.63 583.52 387.71 583.83 383.68 584.15 379.57 584.46 375.39 584.77 371.14 585.09 366.83 585.40 362.48 585.71 358.10 586.03 353.70 586.34 349.30 586.65 344.91 586.97 340.54 587.28 336.22 587.60 331.94 587.91 327.74 588.22 323.62 588.54 319.60 588.85 315.69 589.16 311.92 589.48 308.29 589.79 304.81 590.10 301.51 590.42 298.39 590.73 295.48 591.04 292.77 591.36 290.28 591.67 288.02 591.99 286.01 592.30 284.24 592.61 282.73 592.93 281.48 593.24 280.50 593.55 279.79 593.87 279.36 594.18 279.20 594.49 279.32 594.81 279.72 595.12 280.40 595.44 281.34 595.75 282.56 596.06 284.04 596.38 285.78 596.69 287.76 597.00 289.99 597.32 292.45 597.63 295.13 597.94 298.03 598.26 301.12 598.57 304.40 598.88 307.85 599.20 311.47 599.51 315.22 599.83 319.11 600.14 323.12 600.45 327.23 600.77 331.42 601.08 335.69 601.39 340.01 601.71 344.37 602.02 348.76 602.33 353.17 602.65 357.56 602.96 361.95 603.28 366.30 603.59 370.61 603.90 374.87 604.22 379.07 604.53 383.18 604.84 387.22 605.16 391.16 605.47 394.99 605.78 398.72 606.10 402.33 606.41 405.81 606.72 409.17 607.04 412.40 607.35 415.49 607.67 418.45 607.98 421.27 608.29 423.95 608.61 426.49 608.92 428.89 609.23 431.15 609.55 433.27 609.86 435.26 610.17 437.12 610.49 438.85 610.80 440.46 611.12 441.94 611.43 443.30 611.74 444.55 612.06 445.69 612.37 446.73 612.68 447.66 613.00 448.49 613.31 449.23 613.62 449.88 613.94 450.44 614.25 450.91 614.56 451.30 614.88 451.62 615.19 451.85 615.51 452.01 615.82 452.09 616.13 452.09 616.45 452.02 616.76 451.88 617.07 451.66 617.39 451.36 617.70 450.98 618.01 450.51 618.33 449.97 618.64 449.33 618.96 448.61 619.27 447.79 619.58 446.88 619.90 445.86 620.21 444.74 620.52 443.50 620.84 442.16 621.15 440.69 621.46 439.11 621.78 437.40 622.09 435.56 622.40 433.59 622.72 431.48 623.03 429.24 623.35 426.86 623.66 424.35 623.97 421.69 624.29 418.89 624.60 415.96 624.91 412.88 625.23 409.68 625.54 406.34 625.85 402.87 626.17 399.28 626.48 395.57 626.80 391.75 627.11 387.83 627.42 383.81 627.74 379.70 628.05 375.52 628.36 371.27 628.68 366.96 628.99 362.62 629.30 358.24 629.62 353.84 629.93 349.44 630.24 345.05 630.56 340.68 630.87 336.35 631.19 332.07 631.50 327.87 631.81 323.74 632.13 319.72 632.44 315.81 632.75 312.03 633.07 308.40 633.38 304.92 633.69 301.61 634.01 298.49 634.32 295.56 634.64 292.85 634.95 290.35 635.26 288.09 635.58 286.06 635.89 284.29 636.20 282.77 636.52 281.51 636.83 280.52 637.14 279.81 637.46 279.37 637.77 279.20 638.08 279.31 638.40 279.71 638.71 280.37 639.03 281.31 639.34 282.52 639.65 283.99 639.97 285.72 640.28 287.70 640.59 289.92 640.91 292.37 641.22 295.05 641.53 297.93 641.85 301.02 642.16 304.30 642.48 307.74 642.79 311.35 643.10 315.11 643.42 318.99 643.73 323.00 644.04 327.10 644.36 331.29 644.67 335.56 644.98 339.88 645.30 344.24 645.61 348.63 645.92 353.03 646.24 357.43 646.55 361.81 646.87 366.17 647.18 370.48 647.49 374.74 647.81 378.94 648.12 383.06 648.43 387.10 648.75 391.04 649.06 394.88 649.37 398.61 649.69 402.22 650.00 405.71 650.32 409.07 650.63 412.30 650.94 415.40 651.26 418.36 651.57 421.19 651.88 423.87 652.20 426.41 652.51 428.82 652.82 431.08 653.14 433.21 653.45 435.20 653.76 437.07 654.08 438.80 654.39 440.41 654.71 441.90 655.02 443.26 655.33 444.52 655.65 445.66 655.96 446.70 656.27 447.63 656.59 448.47 656.90 449.21 657.21 449.86 657.53 450.42 657.84 450.90 658.16 451.29 658.47 451.61 658.78 451.84 659.10 452.00 659.41 452.09 659.72 452.09 660.04 452.03 660.35 451.88 660.66 451.66 660.98 451.37 661.29 450.99 661.60 450.53 661.92 449.99 662.23 449.36 662.55 448.63 662.86 447.82 663.17 446.91 663.49 445.89 663.80 444.77" stroke="#222" stroke-width="1.3" fill="none"/>
<path d="M507.00 452.10 507.31 452.06 507.63 451.95 507.94 451.76 508.25 451.49 508.57 451.15 508.88 450.72 509.20 450.21 509.51 449.61 509.82 448.93 510.14 448.15 510.45 447.28 510.76 446.30 511.08 445.22 511.39 444.04 511.70 442.74 512.02 441.33 512.33 439.79 512.64 438.14 512.96 436.35 513.27 434.44 513.59 432.39 513.90 430.21 514.21 427.89 514.53 425.43 514.84 422.83 515.15 420.09 515.47 417.22 515.78 414.20 516.09 411.05 516.41 407.77 516.72 404.35 517.04 400.81 517.35 397.15 517.66 393.38 517.98 389.50 518.29 385.52 518.60 381.45 518.92 377.30 519.23 373.08 519.54 368.79 519.86 364.46 520.17 360.09 520.48 355.70 520.80 351.30 521.11 346.90 521.43 342.52 521.74 338.18 522.05 333.88 522.37 329.64 522.68 325.48 522.99 321.41 523.31 317.45 523.62 313.62 523.93 309.92 524.25 306.37 524.56 302.99 524.88 299.79 525.19 296.78 525.50 293.97 525.82 291.38 526.13 289.02 526.44 286.89 526.76 285.01 527.07 283.38 527.38 282.01 527.70 280.91 528.01 280.08 528.32 279.52 528.64 279.24 528.95 279.23 529.27 279.51 529.58 280.06 529.89 280.88 530.21 281.97 530.52 283.33 530.83 284.96 531.15 286.83 531.46 288.95 531.77 291.31 532.09 293.89 532.40 296.69 532.72 299.69 533.03 302.89 533.34 306.26 533.66 309.81 533.97 313.50 534.28 317.33 534.60 321.29 534.91 325.35 535.22 329.51 535.54 333.74 535.85 338.04 536.16 342.39 536.48 346.77 536.79 351.17 537.11 355.57 537.42 359.96 537.73 364.33 538.05 368.66 538.36 372.95 538.67 377.17 538.99 381.32 539.30 385.40 539.61 389.38 539.93 393.26 540.24 397.04 540.56 400.70 540.87 404.25 541.18 407.66 541.50 410.95 541.81 414.11 542.12 417.13 542.44 420.01 542.75 422.75 543.06 425.35 543.38 427.81 543.69 430.14 544.00 432.33 544.32 434.38 544.63 436.29 544.95 438.08 545.26 439.74 545.57 441.28 545.89 442.70 546.20 444.00 546.51 445.19 546.83 446.27 547.14 447.25 547.45 448.13 547.77 448.91 548.08 449.59 548.40 450.19 548.71 450.71 549.02 451.14 549.34 451.48 549.65 451.75 549.96 451.94 550.28 452.06 550.59 452.10 550.90 452.06 551.22 451.95 551.53 451.77 551.84 451.50 552.16 451.16 552.47 450.73 552.79 450.23 553.10 449.63 553.41 448.95 553.73 448.18 554.04 447.30 554.35 446.33 554.67 445.26 554.98 444.08 555.29 442.78 555.61 441.37 555.92 439.84 556.24 438.19 556.55 436.41 556.86 434.50 557.18 432.45 557.49 430.28 557.80 427.96 558.12 425.51 558.43 422.91 558.74 420.18 559.06 417.31 559.37 414.30 559.68 411.15 560.00 407.87 560.31 404.46 560.63 400.92 560.94 397.27 561.25 393.50 561.57 389.62 561.88 385.64 562.19 381.58 562.51 377.43 562.82 373.21 563.13 368.93 563.45 364.60 563.76 360.23 564.08 355.84 564.39 351.44 564.70 347.04 565.02 342.66 565.33 338.31 565.64 334.01 565.96 329.77 566.27 325.60 566.58 321.53 566.90 317.57 567.21 313.73 567.52 310.03 567.84 306.48 568.15 303.09 568.47 299.88 568.78 296.87 569.09 294.05 569.41 291.46 569.72 289.09 570.03 286.95 570.35 285.06 570.66 283.43 570.97 282.05 571.29 280.94 571.60 280.10 571.92 279.53 572.23 279.24 572.54 279.23 572.86 279.49 573.17 280.03 573.48 280.85 573.80 281.94 574.11 283.29 574.42 284.90 574.74 286.77 575.05 288.88 575.36 291.23 575.68 293.81 575.99 296.60 576.31 299.60 576.62 302.79 576.93 306.16 577.25 309.69 577.56 313.38 577.87 317.21 578.19 321.17 578.50 325.23 578.81 329.38 579.13 333.61 579.44 337.91 579.76 342.26 580.07 346.63 580.38 351.03 580.70 355.43 581.01 359.83 581.32 364.20 581.64 368.53 581.95 372.82 582.26 377.04 582.58 381.20 582.89 385.27 583.20 389.26 583.52 393.15 583.83 396.93 584.15 400.59 584.46 404.14 584.77 407.56 585.09 410.85 585.40 414.01 585.71 417.04 586.03 419.92 586.34 422.67 586.65 425.27 586.97 427.74 587.28 430.07 587.60 432.26 587.91 434.32 588.22 436.24 588.54 438.03 588.85 439.69 589.16 441.24 589.48 442.66 589.79 443.96 590.10 445.15 590.42 446.24 590.73 447.22 591.04 448.10 591.36 448.88 591.67 449.57 591.99 450.18 592.30 450.69 592.61 451.12 592.93 451.47 593.24 451.75 593.55 451.94 593.87 452.06 594.18 452.10 594.49 452.07 594.81 451.96 595.12 451.77 595.44 451.51 595.75 451.17 596.06 450.75 596.38 450.24 596.69 449.65 597.00 448.97 597.32 448.20 597.63 447.33 597.94 446.36 598.26 445.29 598.57 444.11 598.88 442.82 599.20 441.42 599.51 439.89 599.83 438.24 600.14 436.46 600.45 434.56 600.77 432.52 601.08 430.34 601.39 428.03 601.71 425.58 602.02 422.99 602.33 420.26 602.65 417.40 602.96 414.39 603.28 411.25 603.59 407.97 603.90 404.56 604.22 401.03 604.53 397.38 604.84 393.61 605.16 389.74 605.47 385.77 605.78 381.70 606.10 377.56 606.41 373.34 606.72 369.06 607.04 364.73 607.35 360.36 607.67 355.97 607.98 351.57 608.29 347.17 608.61 342.79 608.92 338.44 609.23 334.14 609.55 329.90 609.86 325.73 610.17 321.66 610.49 317.69 610.80 313.85 611.12 310.14 611.43 306.58 611.74 303.19 612.06 299.98 612.37 296.95 612.68 294.14 613.00 291.53 613.31 289.16 613.62 287.01 613.94 285.12 614.25 283.47 614.56 282.09 614.88 280.97 615.19 280.12 615.51 279.55 615.82 279.25 616.13 279.22 616.45 279.48 616.76 280.01 617.07 280.82 617.39 281.90 617.70 283.24 618.01 284.85 618.33 286.71 618.64 288.81 618.96 291.15 619.27 293.72 619.58 296.51 619.90 299.50 620.21 302.69 620.52 306.05 620.84 309.58 621.15 313.27 621.46 317.09 621.78 321.04 622.09 325.10 622.40 329.25 622.72 333.48 623.03 337.78 623.35 342.12 623.66 346.50 623.97 350.90 624.29 355.30 624.60 359.69 624.91 364.06 625.23 368.40 625.54 372.69 625.85 376.91 626.17 381.07 626.48 385.15 626.80 389.14 627.11 393.03 627.42 396.81 627.74 400.48 628.05 404.03 628.36 407.46 628.68 410.75 628.99 413.92 629.30 416.94 629.62 419.83 629.93 422.59 630.24 425.20 630.56 427.67 630.87 430.00 631.19 432.20 631.50 434.25 631.81 436.18 632.13 437.98 632.44 439.65 632.75 441.19 633.07 442.61 633.38 443.92 633.69 445.12 634.01 446.21 634.32 447.19 634.64 448.07 634.95 448.86 635.26 449.55 635.58 450.16 635.89 450.68 636.20 451.11 636.52 451.46 636.83 451.74 637.14 451.93 637.46 452.06 637.77 452.10 638.08 452.07 638.40 451.96 638.71 451.78 639.03 451.52 639.34 451.18 639.65 450.76 639.97 450.26 640.28 449.67 640.59 449.00 640.91 448.23 641.22 447.36 641.53 446.40 641.85 445.33 642.16 444.15 642.48 442.86 642.79 441.46 643.10 439.94 643.42 438.29 643.73 436.52 644.04 434.62 644.36 432.58 644.67 430.41 644.98 428.11 645.30 425.66 645.61 423.08 645.92 420.35 646.24 417.49 646.55 414.48 646.87 411.35 647.18 408.07 647.49 404.67 647.81 401.14 648.12 397.49 648.43 393.73 648.75 389.86 649.06 385.89 649.37 381.83 649.69 377.68 650.00 373.47 650.32 369.19 650.63 364.86 650.94 360.50 651.26 356.11 651.57 351.71 651.88 347.31 652.20 342.92 652.51 338.57 652.82 334.27 653.14 330.02 653.45 325.86 653.76 321.78 654.08 317.81 654.39 313.96 654.71 310.25 655.02 306.69 655.33 303.29 655.65 300.07 655.96 297.04 656.27 294.22 656.59 291.61 656.90 289.23 657.21 287.08 657.53 285.17 657.84 283.52 658.16 282.13 658.47 281.00 658.78 280.14 659.10 279.56 659.41 279.25 659.72 279.22 660.04 279.47 660.35 279.99 660.66 280.79 660.98 281.86 661.29 283.20 661.60 284.80 661.92 286.65 662.23 288.74 662.55 291.08 662.86 293.64 663.17 296.42 663.49 299.41 663.80 302.59" stroke="#222" stroke-width="1.3" fill="none"/>
<path d="M507.00 279.20 507.31 279.34 507.63 279.75 507.94 280.45 508.25 281.41 508.57 282.64 508.88 284.14 509.20 285.89 509.51 287.89 509.82 290.13 510.14 292.61 510.45 295.30 510.76 298.21 511.08 301.31 511.39 304.61 511.70 308.07 512.02 311.69 512.33 315.46 512.64 319.36 512.96 323.37 513.27 327.48 513.59 331.68 513.90 335.95 514.21 340.28 514.53 344.64 514.84 349.03 515.15 353.43 515.47 357.83 515.78 362.21 516.09 366.57 516.41 370.88 516.72 375.13 517.04 379.32 517.35 383.43 517.66 387.46 517.98 391.39 518.29 395.22 518.60 398.94 518.92 402.54 519.23 406.02 519.54 409.37 519.86 412.59 520.17 415.68 520.48 418.63 520.80 421.44 521.11 424.11 521.43 426.64 521.74 429.03 522.05 431.28 522.37 433.40 522.68 435.38 522.99 437.23 523.31 438.95 523.62 440.55 523.93 442.03 524.25 443.38 524.56 444.63 524.88 445.76 525.19 446.79 525.50 447.71 525.82 448.54 526.13 449.27 526.44 449.91 526.76 450.47 527.07 450.94 527.38 451.32 527.70 451.63 528.01 451.86 528.32 452.01 528.64 452.09 528.95 452.09 529.27 452.02 529.58 451.87 529.89 451.64 530.21 451.34 530.52 450.95 530.83 450.48 531.15 449.93 531.46 449.29 531.77 448.56 532.09 447.74 532.40 446.82 532.72 445.79 533.03 444.66 533.34 443.42 533.66 442.07 533.97 440.60 534.28 439.00 534.60 437.29 534.91 435.44 535.22 433.46 535.54 431.35 535.85 429.10 536.16 426.71 536.48 424.19 536.79 421.52 537.11 418.72 537.42 415.77 537.73 412.69 538.05 409.47 538.36 406.13 538.67 402.65 538.99 399.05 539.30 395.34 539.61 391.51 539.93 387.58 540.24 383.56 540.56 379.45 540.87 375.26 541.18 371.01 541.50 366.70 541.81 362.35 542.12 357.97 542.44 353.57 542.75 349.17 543.06 344.78 543.38 340.41 543.69 336.08 544.00 331.81 544.32 327.61 544.63 323.49 544.95 319.48 545.26 315.58 545.57 311.80 545.89 308.18 546.20 304.71 546.51 301.41 546.83 298.30 547.14 295.39 547.45 292.69 547.77 290.21 548.08 287.96 548.40 285.95 548.71 284.19 549.02 282.68 549.34 281.44 549.65 280.47 549.96 279.77 550.28 279.35 550.59 279.20 550.90 279.33 551.22 279.74 551.53 280.42 551.84 281.38 552.16 282.60 552.47 284.09 552.79 285.83 553.10 287.83 553.41 290.06 553.73 292.53 554.04 295.22 554.35 298.12 554.67 301.22 554.98 304.50 555.29 307.96 555.61 311.58 555.92 315.34 556.24 319.24 556.55 323.25 556.86 327.36 557.18 331.55 557.49 335.82 557.80 340.14 558.12 344.51 558.43 348.90 558.74 353.30 559.06 357.70 559.37 362.08 559.68 366.43 560.00 370.75 560.31 375.00 560.63 379.19 560.94 383.31 561.25 387.34 561.57 391.27 561.88 395.11 562.19 398.83 562.51 402.44 562.82 405.92 563.13 409.27 563.45 412.50 563.76 415.59 564.08 418.54 564.39 421.35 564.70 424.03 565.02 426.56 565.33 428.96 565.64 431.22 565.96 433.34 566.27 435.32 566.58 437.18 566.90 438.90 567.21 440.50 567.52 441.98 567.84 443.34 568.15 444.59 568.47 445.73 568.78 446.76 569.09 447.69 569.41 448.52 569.72 449.25 570.03 449.90 570.35 450.45 570.66 450.92 570.97 451.31 571.29 451.62 571.60 451.86 571.92 452.01 572.23 452.09 572.54 452.09 572.86 452.02 573.17 451.87 573.48 451.65 573.80 451.35 574.11 450.96 574.42 450.50 574.74 449.95 575.05 449.31 575.36 448.59 575.68 447.77 575.99 446.85 576.31 445.83 576.62 444.70 576.93 443.46 577.25 442.11 577.56 440.64 577.87 439.06 578.19 437.34 578.50 435.50 578.81 433.52 579.13 431.42 579.44 429.17 579.76 426.79 580.07 424.27 580.38 421.60 580.70 418.80 581.01 415.86 581.32 412.79 581.64 409.58 581.95 406.23 582.26 402.76 582.58 399.17 582.89 395.45 583.20 391.63 583.52 387.71 583.83 383.68 584.15 379.57 584.46 375.39 584.77 371.14 585.09 366.83 585.40 362.48 585.71 358.10 586.03 353.70 586.34 349.30 586.65 344.91 586.97 340.54 587.28 336.22 587.60 331.94 587.91 327.74 588.22 323.62 588.54 319.60 588.85 315.69 589.16 311.92 589.48 308.29 589.79 304.81 590.10 301.51 590.42 298.39 590.73 295.48 591.04 292.77 591.36 290.28 591.67 288.02 591.99 286.01 592.30 284.24 592.61 282.73 592.93 281.48 593.24 280.50 593.55 279.79 593.87 279.36 594.18 279.20 594.49 279.32 594.81 279.72 595.12 280.40 595.44 281.34 595.75 282.56 596.06 284.04 596.38 285.78 596.69 287.76 597.00 289.99 597.32 292.45 597.63 295.13 597.94 298.03 598.26 301.12 598.57 304.40 598.88 307.85 599.20 311.47 599.51 315.22 599.83 319.11 600.14 323.12 600.45 327.23 600.77 331.42 601.08 335.69 601.39 340.01 601.71 344.37 602.02 348.76 602.33 353.17 602.65 357.56 602.96 361.95 603.28 366.30 603.59 370.61 603.90 374.87 604.22 379.07 604.53 383.18 604.84 387.22 605.16 391.16 605.47 394.99 605.78 398.72 606.10 402.33 606.41 405.81 606.72 409.17 607.04 412.40 607.35 415.49 607.67 418.45 607.98 421.27 608.29 423.95 608.61 426.49 608.92 428.89 609.23 431.15 609.55 433.27 609.86 435.26 610.17 437.12 610.49 438.85 610.80 440.46 611.12 441.94 611.43 443.30 611.74 444.55 612.06 445.69 612.37 446.73 612.68 447.66 613.00 448.49 613.31 449.23 613.62 449.88 613.94 450.44 614.25 450.91 614.56 451.30 614.88 451.62 615.19 451.85 615.51 452.01 615.82 452.09 616.13 452.09 616.45 452.02 616.76 451.88 617.07 451.66 617.39 451.36 617.70 450.98 618.01 450.51 618.33 449.97 618.64 449.33 618.96 448.61 619.27 447.79 619.58 446.88 619.90 445.86 620.21 444.74 620.52 443.50 620.84 442.16 621.15 440.69 621.46 439.11 621.78 437.40 622.09 435.56 622.40 433.59 622.72 431.48 623.03 429.24 623.35 426.86 623.66 424.35 623.97 421.69 624.29 418.89 624.60 415.96 624.91 412.88 625.23 409.68 625.54 406.34 625.85 402.87 626.17 399.28 626.48 395.57 626.80 391.75 627.11 387.83 627.42 383.81 627.74 379.70 628.05 375.52 628.36 371.27 628.68 366.96 628.99 362.62 629.30 358.24 629.62 353.84 629.93 349.44 630.24 345.05 630.56 340.68 630.87 336.35 631.19 332.07 631.50 327.87 631.81 323.74 632.13 319.72 632.44 315.81 632.75 312.03 633.07 308.40 633.38 304.92 633.69 301.61 634.01 298.49 634.32 295.56 634.64 292.85 634.95 290.35 635.26 288.09 635.58 286.06 635.89 284.29 636.20 282.77 636.52 281.51 636.83 280.52 637.14 279.81 637.46 279.37 637.77 279.20 638.08 279.31 638.40 279.71 638.71 280.37 639.03 281.31 639.34 282.52 639.65 283.99 639.97 285.72 640.28 287.70 640.59 289.92 640.91 292.37 641.22 295.05 641.53 297.93 641.85 301.02 642.16 304.30 642.48 307.74 642.79 311.35 643.10 315.11 643.42 318.99 643.73 323.00 644.04 327.10 644.36 331.29 644.67 335.56 644.98 339.88 645.30 344.24 645.61 348.63 645.92 353.03 646.24 357.43 646.55 361.81 646.87 366.17 647.18 370.48 647.49 374.74 647.81 378.94 648.12 383.06 648.43 387.10 648.75 391.04 649.06 394.88 649.37 398.61 649.69 402.22 650.00 405.71 650.32 409.07 650.63 412.30 650.94 415.40 651.26 418.36 651.57 421.19 651.88 423.87 652.20 426.41 652.51 428.82 652.82 431.08 653.14 433.21 653.45 435.20 653.76 437.07 654.08 438.80 654.39 440.41 654.71 441.90 655.02 443.26 655.33 444.52 655.65 445.66 655.96 446.70 656.27 447.63 656.59 448.47 656.90 449.21 657.21 449.86 657.53 450.42 657.84 450.90 658.16 451.29 658.47 451.61 658.78 451.84 659.10 452.00 659.41 452.09 659.72 452.09 660.04 452.03 660.35 451.88 660.66 451.66 660.98 451.37 661.29 450.99 661.60 450.53 661.92 449.99 662.23 449.36 662.55 448.63 662.86 447.82 663.17 446.91 663.49 445.89 663.80 444.77" stroke="#e00000" stroke-width="1.8" fill="none" stroke-dasharray="10 9"/>
<path d="M507.00 452.10 507.31 452.06 507.63 451.95 507.94 451.76 508.25 451.49 508.57 451.15 508.88 450.72 509.20 450.21 509.51 449.61 509.82 448.93 510.14 448.15 510.45 447.28 510.76 446.30 511.08 445.22 511.39 444.04 511.70 442.74 512.02 441.33 512.33 439.79 512.64 438.14 512.96 436.35 513.27 434.44 513.59 432.39 513.90 430.21 514.21 427.89 514.53 425.43 514.84 422.83 515.15 420.09 515.47 417.22 515.78 414.20 516.09 411.05 516.41 407.77 516.72 404.35 517.04 400.81 517.35 397.15 517.66 393.38 517.98 389.50 518.29 385.52 518.60 381.45 518.92 377.30 519.23 373.08 519.54 368.79 519.86 364.46 520.17 360.09 520.48 355.70 520.80 351.30 521.11 346.90 521.43 342.52 521.74 338.18 522.05 333.88 522.37 329.64 522.68 325.48 522.99 321.41 523.31 317.45 523.62 313.62 523.93 309.92 524.25 306.37 524.56 302.99 524.88 299.79 525.19 296.78 525.50 293.97 525.82 291.38 526.13 289.02 526.44 286.89 526.76 285.01 527.07 283.38 527.38 282.01 527.70 280.91 528.01 280.08 528.32 279.52 528.64 279.24 528.95 279.23 529.27 279.51 529.58 280.06 529.89 280.88 530.21 281.97 530.52 283.33 530.83 284.96 531.15 286.83 531.46 288.95 531.77 291.31 532.09 293.89 532.40 296.69 532.72 299.69 533.03 302.89 533.34 306.26 533.66 309.81 533.97 313.50 534.28 317.33 534.60 321.29 534.91 325.35 535.22 329.51 535.54 333.74 535.85 338.04 536.16 342.39 536.48 346.77 536.79 351.17 537.11 355.57 537.42 359.96 537.73 364.33 538.05 368.66 538.36 372.95 538.67 377.17 538.99 381.32 539.30 385.40 539.61 389.38 539.93 393.26 540.24 397.04 540.56 400.70 540.87 404.25 541.18 407.66 541.50 410.95 541.81 414.11 542.12 417.13 542.44 420.01 542.75 422.75 543.06 425.35 543.38 427.81 543.69 430.14 544.00 432.33 544.32 434.38 544.63 436.29 544.95 438.08 545.26 439.74 545.57 441.28 545.89 442.70 546.20 444.00 546.51 445.19 546.83 446.27 547.14 447.25 547.45 448.13 547.77 448.91 548.08 449.59 548.40 450.19 548.71 450.71 549.02 451.14 549.34 451.48 549.65 451.75 549.96 451.94 550.28 452.06 550.59 452.10 550.90 452.06 551.22 451.95 551.53 451.77 551.84 451.50 552.16 451.16 552.47 450.73 552.79 450.23 553.10 449.63 553.41 448.95 553.73 448.18 554.04 447.30 554.35 446.33 554.67 445.26 554.98 444.08 555.29 442.78 555.61 441.37 555.92 439.84 556.24 438.19 556.55 436.41 556.86 434.50 557.18 432.45 557.49 430.28 557.80 427.96 558.12 425.51 558.43 422.91 558.74 420.18 559.06 417.31 559.37 414.30 559.68 411.15 560.00 407.87 560.31 404.46 560.63 400.92 560.94 397.27 561.25 393.50 561.57 389.62 561.88 385.64 562.19 381.58 562.51 377.43 562.82 373.21 563.13 368.93 563.45 364.60 563.76 360.23 564.08 355.84 564.39 351.44 564.70 347.04 565.02 342.66 565.33 338.31 565.64 334.01 565.96 329.77 566.27 325.60 566.58 321.53 566.90 317.57 567.21 313.73 567.52 310.03 567.84 306.48 568.15 303.09 568.47 299.88 568.78 296.87 569.09 294.05 569.41 291.46 569.72 289.09 570.03 286.95 570.35 285.06 570.66 283.43 570.97 282.05 571.29 280.94 571.60 280.10 571.92 279.53 572.23 279.24 572.54 279.23 572.86 279.49 573.17 280.03 573.48 280.85 573.80 281.94 574.11 283.29 574.42 284.90 574.74 286.77 575.05 288.88 575.36 291.23 575.68 293.81 575.99 296.60 576.31 299.60 576.62 302.79 576.93 306.16 577.25 309.69 577.56 313.38 577.87 317.21 578.19 321.17 578.50 325.23 578.81 329.38 579.13 333.61 579.44 337.91 579.76 342.26 580.07 346.63 580.38 351.03 580.70 355.43 581.01 359.83 581.32 364.20 581.64 368.53 581.95 372.82 582.26 377.04 582.58 381.20 582.89 385.27 583.20 389.26 583.52 393.15 583.83 396.93 584.15 400.59 584.46 404.14 584.77 407.56 585.09 410.85 585.40 414.01 585.71 417.04 586.03 419.92 586.34 422.67 586.65 425.27 586.97 427.74 587.28 430.07 587.60 432.26 587.91 434.32 588.22 436.24 588.54 438.03 588.85 439.69 589.16 441.24 589.48 442.66 589.79 443.96 590.10 445.15 590.42 446.24 590.73 447.22 591.04 448.10 591.36 448.88 591.67 449.57 591.99 450.18 592.30 450.69 592.61 451.12 592.93 451.47 593.24 451.75 593.55 451.94 593.87 452.06 594.18 452.10 594.49 452.07 594.81 451.96 595.12 451.77 595.44 451.51 595.75 451.17 596.06 450.75 596.38 450.24 596.69 449.65 597.00 448.97 597.32 448.20 597.63 447.33 597.94 446.36 598.26 445.29 598.57 444.11 598.88 442.82 599.20 441.42 599.51 439.89 599.83 438.24 600.14 436.46 600.45 434.56 600.77 432.52 601.08 430.34 601.39 428.03 601.71 425.58 602.02 422.99 602.33 420.26 602.65 417.40 602.96 414.39 603.28 411.25 603.59 407.97 603.90 404.56 604.22 401.03 604.53 397.38 604.84 393.61 605.16 389.74 605.47 385.77 605.78 381.70 606.10 377.56 606.41 373.34 606.72 369.06 607.04 364.73 607.35 360.36 607.67 355.97 607.98 351.57 608.29 347.17 608.61 342.79 608.92 338.44 609.23 334.14 609.55 329.90 609.86 325.73 610.17 321.66 610.49 317.69 610.80 313.85 611.12 310.14 611.43 306.58 611.74 303.19 612.06 299.98 612.37 296.95 612.68 294.14 613.00 291.53 613.31 289.16 613.62 287.01 613.94 285.12 614.25 283.47 614.56 282.09 614.88 280.97 615.19 280.12 615.51 279.55 615.82 279.25 616.13 279.22 616.45 279.48 616.76 280.01 617.07 280.82 617.39 281.90 617.70 283.24 618.01 284.85 618.33 286.71 618.64 288.81 618.96 291.15 619.27 293.72 619.58 296.51 619.90 299.50 620.21 302.69 620.52 306.05 620.84 309.58 621.15 313.27 621.46 317.09 621.78 321.04 622.09 325.10 622.40 329.25 622.72 333.48 623.03 337.78 623.35 342.12 623.66 346.50 623.97 350.90 624.29 355.30 624.60 359.69 624.91 364.06 625.23 368.40 625.54 372.69 625.85 376.91 626.17 381.07 626.48 385.15 626.80 389.14 627.11 393.03 627.42 396.81 627.74 400.48 628.05 404.03 628.36 407.46 628.68 410.75 628.99 413.92 629.30 416.94 629.62 419.83 629.93 422.59 630.24 425.20 630.56 427.67 630.87 430.00 631.19 432.20 631.50 434.25 631.81 436.18 632.13 437.98 632.44 439.65 632.75 441.19 633.07 442.61 633.38 443.92 633.69 445.12 634.01 446.21 634.32 447.19 634.64 448.07 634.95 448.86 635.26 449.55 635.58 450.16 635.89 450.68 636.20 451.11 636.52 451.46 636.83 451.74 637.14 451.93 637.46 452.06 637.77 452.10 638.08 452.07 638.40 451.96 638.71 451.78 639.03 451.52 639.34 451.18 639.65 450.76 639.97 450.26 640.28 449.67 640.59 449.00 640.91 448.23 641.22 447.36 641.53 446.40 641.85 445.33 642.16 444.15 642.48 442.86 642.79 441.46 643.10 439.94 643.42 438.29 643.73 436.52 644.04 434.62 644.36 432.58 644.67 430.41 644.98 428.11 645.30 425.66 645.61 423.08 645.92 420.35 646.24 417.49 646.55 414.48 646.87 411.35 647.18 408.07 647.49 404.67 647.81 401.14 648.12 397.49 648.43 393.73 648.75 389.86 649.06 385.89 649.37 381.83 649.69 377.68 650.00 373.47 650.32 369.19 650.63 364.86 650.94 360.50 651.26 356.11 651.57 351.71 651.88 347.31 652.20 342.92 652.51 338.57 652.82 334.27 653.14 330.02 653.45 325.86 653.76 321.78 654.08 317.81 654.39 313.96 654.71 310.25 655.02 306.69 655.33 303.29 655.65 300.07 655.96 297.04 656.27 294.22 656.59 291.61 656.90 289.23 657.21 287.08 657.53 285.17 657.84 283.52 658.16 282.13 658.47 281.00 658.78 280.14 659.10 279.56 659.41 279.25 659.72 279.22 660.04 279.47 660.35 279.99 660.66 280.79 660.98 281.86 661.29 283.20 661.60 284.80 661.92 286.65 662.23 288.74 662.55 291.08 662.86 293.64 663.17 296.42 663.49 299.41 663.80 302.59" stroke="#00ffff" stroke-width="1.8" fill="none" stroke-dasharray="10 9" stroke-dashoffset="5"/>
<path d="M506.5 279.2V453M506 452.5H664.6M507 452.1v-4.6M585.4 452.1v-4.6M663.8 452.1v-4.6M507 427.2h4.6M507 303.1h4.6" stroke="#111" stroke-width="1" fill="none"/>
<path d="M522.68 452.1v-2.6M538.36 452.1v-2.6M554.04 452.1v-2.6M569.72 452.1v-2.6M601.08 452.1v-2.6M616.76 452.1v-2.6M632.44 452.1v-2.6M648.12 452.1v-2.6M507 402.38h2.6M507 377.56h2.6M507 352.74h2.6M507 327.92h2.6" stroke="#444" stroke-width="0.8" fill="none"/>
<text transform="translate(506.5 467.2) scale(1.05 1)" class="tx">0</text>
<text transform="translate(585 467.2) scale(1.05 1)" class="tx">5</text>
<text transform="translate(663.6 467.2)" class="tx">10</text>
<text transform="translate(502.8 309.9)" class="ty">1.4</text>
<text transform="translate(502.6 433.8) scale(1.03 1)" class="ty">1.05</text>
<text transform="translate(585.3 484)" class="lb">z</text>
<text transform="translate(630.75 275) scale(1.06 1)" class="pl" style="fill:#000">(f)</text>
<text x="470.2" y="327" class="wl" style="fill:#d80000">w<tspan class="sub" dx="0.3" dy="5.6">x</tspan></text>
<text x="470.2" y="407.5" class="wl" style="fill:#00f0ff">w<tspan class="sub" dx="0.3" dy="5.2">y</tspan></text>
</svg></body></html>
